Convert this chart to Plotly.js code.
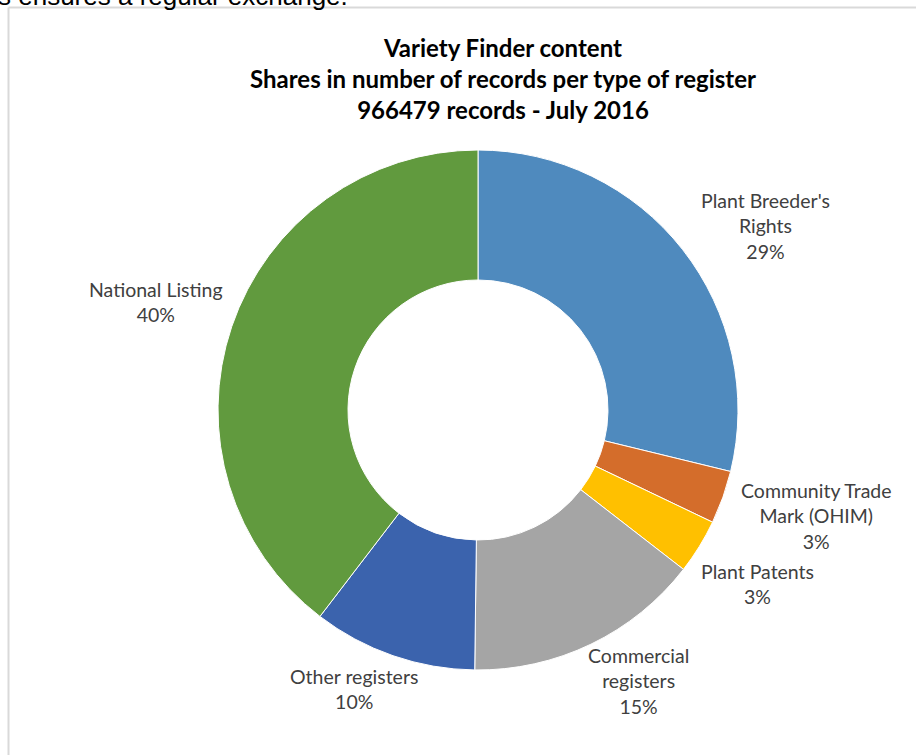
<!DOCTYPE html>
<html>
<head>
<meta charset="utf-8">
<script src="https://cdn.plot.ly/plotly-3.0.1.min.js"></script>
<style>
html,body{margin:0;padding:0;background:#fff;overflow:hidden;}
#chart{width:916px;height:755px;}
</style>
</head>
<body>
<div id="chart"></div>
<script>
// ---- data ----
const categories = ["Plant Breeder's Rights", "Community Trade Mark (OHIM)", "Plant Patents", "Commercial registers", "Other registers", "National Listing"];
const labelLines = [["Plant Breeder's", "Rights"], ["Community Trade", "Mark (OHIM)"], ["Plant Patents"], ["Commercial", "registers"], ["Other registers"], ["National Listing"]];
const shares = [28.8, 3.3, 3.4, 14.7, 10.2, 39.6];
const sliceColors = ["#4f8abe", "#d46d2b", "#ffc000", "#a5a5a5", "#3b63ad", "#619a3e"];
const titleLines = ["Variety Finder content", "Shares in number of records per type of register", "966479 records - July 2016"];

// ---- layout helpers ----
const W = 916, H = 755;
const px = x => x / W;
const py = y => 1 - y / H;
const cx = 478, cy = 410, R = 260;

// label centre positions (pixels, centre of text block)
const labelPos = [[765, 226], [816, 516], [757, 584], [638, 681], [354, 689], [156, 302]];

const total = shares.reduce((a, b) => a + b, 0);
const annotations = categories.map((c, i) => {
  const pct = Math.round(shares[i] / total * 100) + '%';
  return {
    text: labelLines[i].concat([pct]).join('<br>'),
    x: px(labelPos[i][0]), y: py(labelPos[i][1]),
    xref: 'paper', yref: 'paper', xanchor: 'center', yanchor: 'middle',
    showarrow: false, align: 'center',
    font: {family: 'Lato, sans-serif', size: 19.5, color: '#404040'}
  };
});

annotations.push({
  text: '<b>' + titleLines.join('<br>') + '</b>',
  x: px(503), y: py(78), xref: 'paper', yref: 'paper',
  xanchor: 'center', yanchor: 'middle', showarrow: false, align: 'center',
  font: {family: 'Lato, sans-serif', size: 24, color: '#000000'}
});

annotations.push({
  text: 's ensures a regular exchange.',
  x: px(-4), y: py(13), xref: 'paper', yref: 'paper',
  xanchor: 'left', yanchor: 'bottom', showarrow: false,
  font: {family: 'Liberation Sans, Arial, sans-serif', size: 26, color: '#000000'}
});

const trace = {
  type: 'pie',
  labels: categories,
  values: shares,
  sort: false,
  direction: 'clockwise',
  rotation: 0,
  hole: 0.5,
  textinfo: 'none',
  hoverinfo: 'label+percent',
  marker: {colors: sliceColors, line: {color: '#ffffff', width: 1}},
  domain: {x: [px(cx - R), px(cx + R)], y: [py(cy + R), py(cy - R)]},
  showlegend: false
};

const layout = {
  width: W, height: H,
  margin: {l: 0, r: 0, t: 0, b: 0},
  paper_bgcolor: '#ffffff',
  showlegend: false,
  annotations: annotations,
  shapes: [
    {type: 'line', xref: 'paper', yref: 'paper', x0: px(8.5), x1: 1.01, y0: py(7.5), y1: py(7.5), line: {color: '#d9d9d9', width: 2}},
    {type: 'line', xref: 'paper', yref: 'paper', x0: px(8.5), x1: px(8.5), y0: py(7.5), y1: -0.01, line: {color: '#d9d9d9', width: 2}}
  ]
};

Plotly.newPlot('chart', [trace], layout, {displayModeBar: false, staticPlot: true});
</script>
</body>
</html>
